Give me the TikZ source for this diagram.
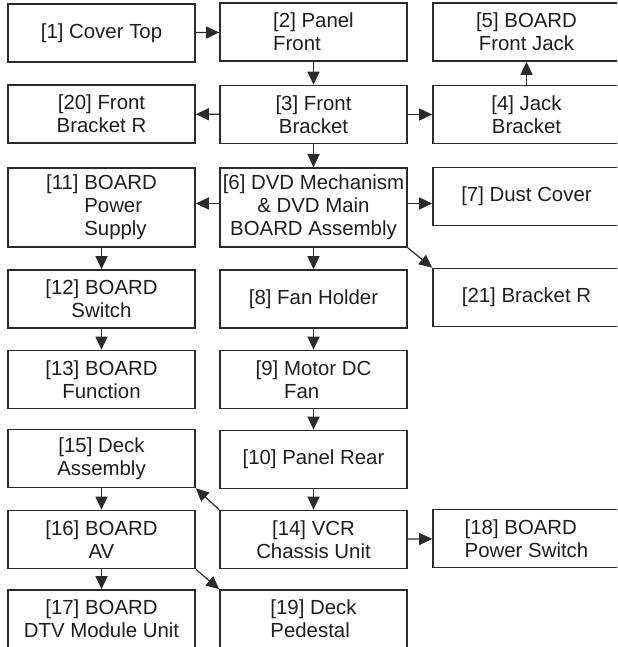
\documentclass[tikz,border=0pt]{standalone}
\usepackage{fontspec}
\setmainfont{Liberation Sans}
\usetikzlibrary{arrows.meta}
\definecolor{partline}{HTML}{2b2b2b}
\definecolor{parttext}{HTML}{1e1e1e}

\begin{document}
\begin{tikzpicture}[x=0.5pt,y=-0.5pt,
  part/.style={draw=partline,line width=0.8pt,minimum width=93.5pt,minimum height=29pt,
    inner sep=1pt,align=center,text=parttext,font=\fontsize{10.2}{11.5}\selectfont},
  tall/.style={part,minimum height=39.5pt},
  link/.style={draw=partline,line width=0.6pt,-{Triangle[length=6.5pt,width=6pt]}}]
  \clip (0,0) rectangle (617,647);
  \node[part] (n1) at (101.5,33) {[1] Cover Top};
  \node[part,align=left] (n2) at (313.5,32) {[2] Panel\\Front};
  \node[part] (n5) at (526.5,32) {[5] BOARD\\Front Jack};
  \node[part] (n20) at (101.5,114) {[20] Front\\Bracket R};
  \node[part] (n3) at (313.5,114.5) {[3] Front\\Bracket};
  \node[part] (n4) at (526.5,114.5) {[4] Jack\\Bracket};
  \node[tall,align=left] (n11) at (101.5,207.5) {[11] BOARD\\\hphantom{[11] }Power\\\hphantom{[11] }Supply};
  \node[tall] (n6) at (313.5,207.5) {[6] DVD Mechanism\\\& DVD Main\\BOARD Assembly};
  \node[part] (n7) at (526.5,196.5) {[7] Dust Cover};
  \node[part] (n12) at (101.5,299) {[12] BOARD\\Switch};
  \node[part] (n8) at (313.5,299) {[8] Fan Holder};
  \node[part] (n21) at (526.5,297.5) {[21] Bracket R};
  \node[part] (n13) at (101.5,379.5) {[13] BOARD\\Function};
  \node[part,align=left] (n9) at (313.5,379.5) {[9] Motor DC\\\hphantom{[9] }Fan};
  \node[part] (n15) at (101.5,458.5) {[15] Deck\\Assembly};
  \node[part] (n10) at (313.5,459.5) {[10] Panel Rear};
  \node[part] (n16) at (101.5,539.5) {[16] BOARD\\AV};
  \node[part] (n14) at (313.5,539.5) {[14] VCR\\Chassis Unit};
  \node[part,align=left] (n18) at (526.5,538.5) {[18] BOARD\\Power Switch};
  \node[part] (n17) at (101.5,619) {[17] BOARD\\DTV Module Unit};
  \node[part,align=left] (n19) at (313.5,619) {[19] Deck\\Pedestal};

  \draw[link] (n1) -- (n2);
  \draw[link] (n2) -- (n3);
  \draw[link] (n3) -- (n20);
  \draw[link] (n3) -- (n4);
  \draw[link] (n4) -- (n5);
  \draw[link] (n3) -- (n6);
  \draw[link] ([yshift=2pt]n6.west) -- ([yshift=2pt]n6.west -| n11.east);
  \draw[link] ([yshift=2pt]n6.east) -- ([yshift=2pt]n6.east -| n7.west);
  \draw[link] (n6.south east) -- (n21.north west);
  \draw[link] (n6) -- (n8);
  \draw[link] (n11) -- (n12);
  \draw[link] (n12) -- (n13);
  \draw[link] (n8) -- (n9);
  \draw[link] (n9) -- (n10);
  \draw[link] (n10) -- (n14);
  \draw[link] (n14.north west) -- (n15.south east);
  \draw[link] (n14) -- (n18);
  \draw[link] (n15) -- (n16);
  \draw[link] (n16) -- (n17);
  \draw[link] (n16.south east) -- (n19.north west);
\end{tikzpicture}
\end{document}
